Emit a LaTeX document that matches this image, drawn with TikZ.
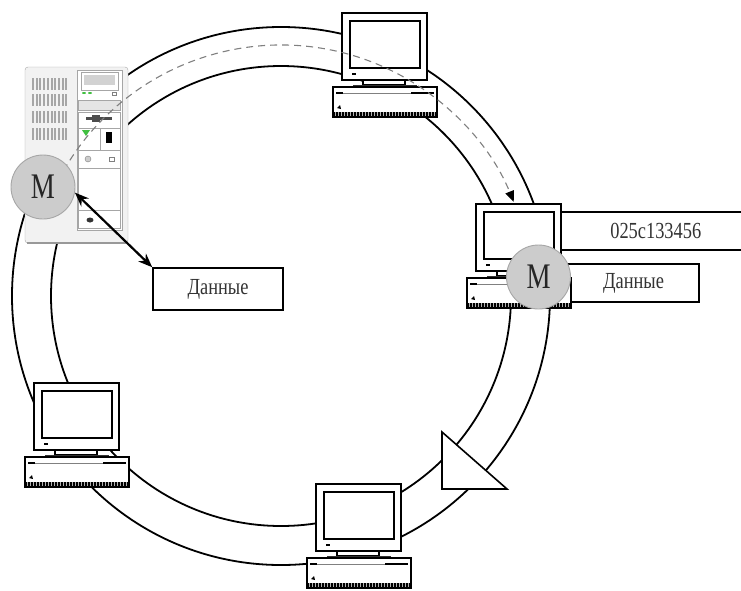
\documentclass[tikz,border=0pt]{standalone}
\usepackage{fontspec}
\usetikzlibrary{positioning, arrows.meta, calc}
\newfontfamily\labelfont{Liberation Serif}[FakeStretch=0.8]
\newfontfamily\mfont{Liberation Serif}[FakeStretch=0.75]

\tikzset{
  pics/computer/.style={code={
    % monitor
    \draw[line width=1.5pt, fill=white] (9,-74) rectangle (94,-7);
    \draw[line width=2.6pt] (17,-66) rectangle (87,-19);
    \fill (19,-14) rectangle (23,-12);
    % stand
    \draw[line width=1.2pt, fill=white] (30,-7) rectangle (72,-2);
    \fill[black!80] (20,-2.5) rectangle (84,0);
    % case
    \draw[line width=1.5pt, fill=white] (0,0) rectangle (104,30);
    \draw[gray, line width=0.6pt] (3,6) -- (101,6);
    \draw[line width=1.8pt] (3,6) -- (10,6) (78,6) -- (101,6);
    \fill (4,21) -- (7,18) -- (8,22) -- cycle;
    \fill[gray!60] (0,25) rectangle (104,30);
    \foreach \i in {1.5,3,...,103}
      \draw[line width=0.5pt] (\i,25) -- (\i,30);
    \draw[line width=1.5pt] (0,0) rectangle (104,30);
  }}
}

\begin{document}
\begin{tikzpicture}[x=1pt, y=-1pt]
    \tikzset{
      station/.style={
        circle, minimum size=64pt, inner sep=0pt,
        fill=gray!40, draw=gray!70, line width=0.9pt,
        font=\mfont\fontsize{36}{38}\selectfont, text=black!85
      },
      databox/.style={
        rectangle, draw, line width=1.6pt, fill=white,
        inner sep=0pt, font=\labelfont\fontsize{23}{25}\selectfont,
        text=black!80
      }
    }
    \useasboundingbox (0,0) rectangle (741,590);

    % Ring
    \coordinate (ring) at (281,296);
    \draw[line width=1.8pt] (ring) circle[radius=269pt];
    \draw[line width=1.8pt] (ring) circle[radius=230pt];

    % Token
    \draw[line width=1.6pt, fill=white] (442,432) -- (442,489) -- (507,489) -- cycle;

    % Server
    \draw[gray!70, fill=gray!10, rounded corners=3pt] (25,67) rectangle (128,243);
    \draw[gray!80, line width=1.8pt] (27,243) -- (126,243);
    \foreach \r in {78,94,111,128}
      \foreach \i in {0,...,9}
        \fill[gray!70] (32+\i*3.7,\r) rectangle ++(2,12);
    \draw[gray!70, fill=white] (77,70) rectangle (122,230);
    \draw[gray!70] (81,72) rectangle (118,90);
    \fill[gray!35] (84,75) rectangle (115,85);
    \fill[green!50!gray] (84,93) ellipse (2pt and 1pt) (90,93) ellipse (2pt and 1pt);
    \draw[gray] (112,92) rectangle (116,95);
    \draw[gray!70, fill=gray!20] (78,100) rectangle (120,110);
    \draw[gray!70] (78,112) rectangle (120,128);
    \fill[black!70] (86,117) rectangle (112,120);
    \fill[black!70] (92,115) rectangle (100,122);
    \draw[gray!70] (78,128) rectangle (100,150) (100,128) rectangle (120,150);
    \fill[green!50!gray] (82,130) -- (90,130) -- (86,136) -- cycle;
    \fill (106,132) rectangle (112,143);
    \draw[gray!70] (78,150) rectangle (120,168);
    \draw[gray, fill=gray!40] (88,159) circle (3pt);
    \draw[gray] (109,157) rectangle (114,161);
    \draw[gray!70] (78,168) rectangle (120,210);
    \draw[gray!70] (78,210) rectangle (120,228);
    \fill[black!80] (90,220) ellipse (3.5pt and 2.5pt);

    % Address and data labels
    \node[databox, minimum width=190pt, minimum height=38pt, anchor=west] (addr) at (560,231) {025c133456};
    \node[databox, minimum width=131pt, minimum height=38pt] (dr) at (633.5,283) {Данные};
    \node[databox, minimum width=130pt, minimum height=42pt] (dl) at (218,289) {Данные};

    % Workstations
    \pic at (333,87) {computer};
    \pic at (467,278) {computer};
    \pic at (25,457) {computer};
    \pic at (307,558) {computer};

    % Token path
    \coordinate (tokstart) at ($(ring)+(150:251pt)$);
    \draw[gray, dash pattern=on 7pt off 5pt, line width=1.1pt,
          -{Triangle[length=11pt, width=9pt, black]}]
      (tokstart) arc[start angle=150, end angle=22, radius=251pt];

    % MAU
    \node[station] (ms) at (43,187) {M};
    \node[station] (mr) at (538.5,277) {M};
    \draw[line width=2.2pt, {Stealth[length=14pt, width=11pt]}-{Stealth[length=14pt, width=11pt]}]
      (ms.-10) -- (dl.north west);
\end{tikzpicture}
\end{document}
